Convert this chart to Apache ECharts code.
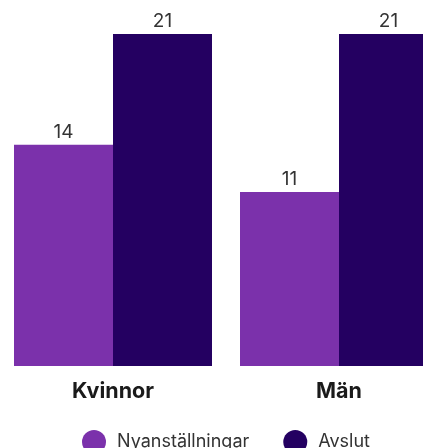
<!DOCTYPE html>
<html><head><meta charset="utf-8">
<script src="https://cdn.jsdelivr.net/npm/echarts@6/dist/echarts.min.js"></script>
<style>html,body{margin:0;padding:0;background:#fff}#c{width:423px;height:448px}</style>
</head><body><div id="c"></div>
<script>
const categories = ["Kvinnor", "Män"];
const seriesNames = ["Nyanställningar", "Avslut"];
const nyanstallningar = [14, 11];
const avslut = [21, 21];
const colors = ["#7B31AB", "#240061"];

const chart = echarts.init(document.getElementById('c'), null, {renderer: 'canvas'});
const labelStyle = {show: true, position: 'top', distance: 3, fontFamily: 'Inter', fontSize: 19, color: '#333'};
chart.setOption({
  animation: false,
  grid: {left: 0, right: -29, top: 34, bottom: 82, containLabel: false, outerBoundsMode: 'none'},
  xAxis: {
    type: 'category', data: categories,
    axisLine: {show: false}, axisTick: {show: false},
    axisLabel: {margin: 15, fontFamily: 'Inter', fontWeight: 'bold', fontSize: 21.5, color: '#1a1a1a'}
  },
  yAxis: {type: 'value', min: 0, max: 21, show: false, splitLine: {show: false}},
  legend: {
    left: 77, top: 425, icon: 'circle', itemWidth: 24, itemHeight: 24, itemGap: 34,
    textStyle: {fontFamily: 'Inter', fontSize: 18, color: '#333', padding: [0, 0, 0, 6]},
    data: seriesNames
  },
  series: [
    {name: seriesNames[0], type: 'bar', data: nyanstallningar, barWidth: 99, barGap: '0%', itemStyle: {color: colors[0]}, label: labelStyle},
    {name: seriesNames[1], type: 'bar', data: avslut, barWidth: 99, barGap: '0%', itemStyle: {color: colors[1]}, label: labelStyle}
  ]
});
</script></body></html>
